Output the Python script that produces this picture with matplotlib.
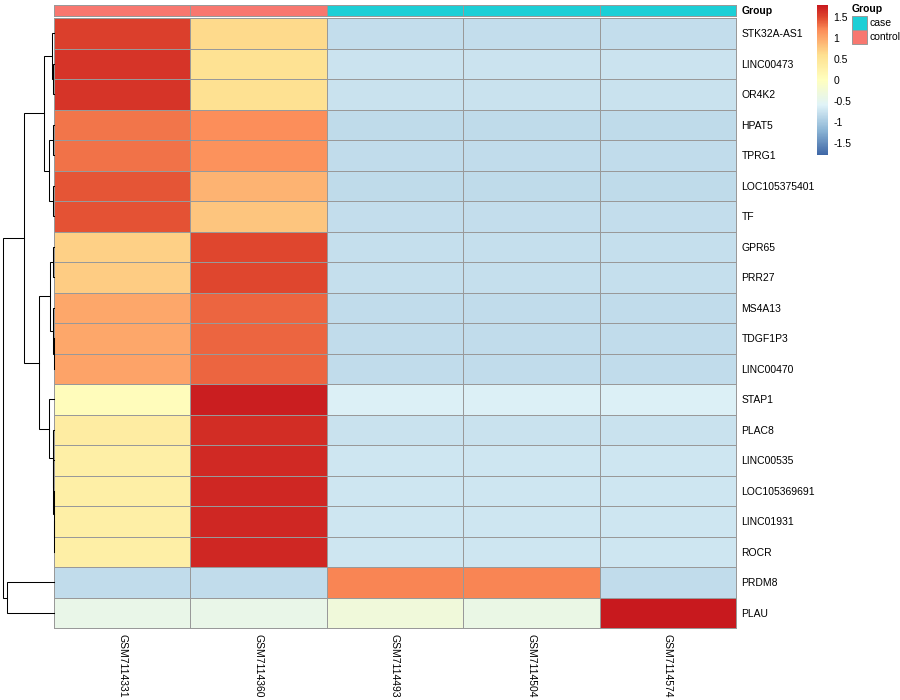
import numpy as np
import matplotlib.pyplot as plt
from matplotlib.colors import LinearSegmentedColormap, ListedColormap, Normalize
from matplotlib.patches import Rectangle

plt.rcParams['font.family'] = ['Liberation Sans', 'DejaVu Sans']

genes = ["STK32A-AS1", "LINC00473", "OR4K2", "HPAT5", "TPRG1", "LOC105375401", "TF",
         "GPR65", "PRR27", "MS4A13", "TDGF1P3", "LINC00470", "STAP1", "PLAC8",
         "LINC00535", "LOC105369691", "LINC01931", "ROCR", "PRDM8", "PLAU"]
samples = ["GSM7114331", "GSM7114360", "GSM7114493", "GSM7114504", "GSM7114574"]
groups = ["control", "control", "case", "case", "case"]

# row z-scores, one list per sample (rows in the order above)
gsm331 = [1.54, 1.62, 1.62, 1.29, 1.31, 1.43, 1.45, 0.70, 0.74, 1.00, 1.00, 1.03,
          0.05, 0.37, 0.31, 0.31, 0.31, 0.31, -0.82, -0.42]
gsm360 = [0.64, 0.55, 0.56, 1.18, 1.16, 0.92, 0.79, 1.50, 1.50, 1.37, 1.37, 1.36,
          1.76, 1.66, 1.69, 1.70, 1.70, 1.70, -0.82, -0.42]
gsm493 = [-0.80, -0.75, -0.76, -0.83, -0.82, -0.83, -0.80, -0.79, -0.79, -0.82, -0.82, -0.82,
          -0.62, -0.76, -0.72, -0.72, -0.72, -0.72, 1.22, -0.28]
gsm504 = [-0.80, -0.75, -0.76, -0.83, -0.82, -0.83, -0.80, -0.79, -0.79, -0.82, -0.82, -0.82,
          -0.62, -0.76, -0.72, -0.72, -0.72, -0.72, 1.22, -0.40]
gsm574 = [-0.80, -0.75, -0.76, -0.83, -0.82, -0.83, -0.80, -0.79, -0.79, -0.82, -0.82, -0.82,
          -0.62, -0.76, -0.72, -0.72, -0.72, -0.72, -0.82, 1.78]

# row dendrogram: (height, left, right), leaves are row indices
row_tree = (51,
            (30,
             (10, (2.5, 0, (0.6, 1, 2)), (5, (1, 3, 4), (1.5, 5, 6))),
             (15, (4, (0.8, 7, 8), (0.8, 9, (0.4, 10, 11))),
                  (5, 12, (1.5, 13, (0.8, 14, (0.5, 15, (0.3, 16, 17))))))),
            (47, 18, 19))

group_colors = {"case": "#1CCFD6", "control": "#F8776F"}

mat = np.array([gsm331, gsm360, gsm493, gsm504, gsm574]).T

cmap = LinearSegmentedColormap.from_list("hm", [
    (0.0, "#3F67A6"), (0.6 / 3.6, "#8DB6D6"), (1.2 / 3.6, "#E0F3F8"), (0.5, "#FFFFBF"),
    (2.4 / 3.6, "#FEE090"), (3.0 / 3.6, "#FC8D59"), (3.3 / 3.6, "#E0492F"), (1.0, "#C8191E")])
norm = Normalize(-1.79, 1.79)

W, H = 900, 700
fig = plt.figure(figsize=(9, 7), dpi=100)


def ax_px(x0, y0, x1, y1):
    return fig.add_axes([x0 / W, 1 - y1 / H, (x1 - x0) / W, (y1 - y0) / H])


grid = "#999999"
fs = 7.5

# heatmap
ax = ax_px(54, 18, 736, 628)
mesh = ax.pcolormesh(mat, cmap=cmap, norm=norm, edgecolors=grid, linewidth=0.7)
mesh.set_clip_on(False)
ax.set_xlim(0, len(samples))
ax.set_ylim(len(genes), 0)
for s in ax.spines.values():
    s.set_visible(False)
ax.yaxis.tick_right()
ax.set_yticks(np.arange(len(genes)) + 0.5)
ax.set_yticklabels(genes, fontsize=fs)
ax.set_xticks(np.arange(len(samples)) + 0.5)
ax.set_xticklabels(samples, fontsize=fs, rotation=270, ha="center", va="top")
ax.tick_params(length=0, pad=4)

# group annotation bar
ann = ax_px(54, 5, 736, 16)
levels = ["case", "control"]
codes = np.array([[levels.index(g) for g in groups]])
am = ann.pcolormesh(codes, cmap=ListedColormap([group_colors[l] for l in levels]),
                    vmin=-0.5, vmax=1.5, edgecolors=grid, linewidth=0.7)
am.set_clip_on(False)
ann.set_xlim(0, len(samples))
ann.set_ylim(1, 0)
for s in ann.spines.values():
    s.set_visible(False)
ann.set_xticks([])
ann.yaxis.tick_right()
ann.set_yticks([0.5])
ann.set_yticklabels(["Group"], fontsize=fs, fontweight="bold")
ann.tick_params(length=0, pad=4)

# dendrogram
dax = ax_px(0, 18, 54, 628)
dax.set_xlim(54, 0)
dax.set_ylim(len(genes), 0)
dax.axis("off")


def draw(node):
    if isinstance(node, int):
        return node + 0.5, 0
    h, l, r = node
    yl, hl = draw(l)
    yr, hr = draw(r)
    dax.plot([hl, h, h, hr], [yl, yl, yr, yr], color="black", lw=0.75,
             solid_joinstyle="miter", clip_on=False)
    return (yl + yr) / 2, h


draw(row_tree)

# colour legend
cax = ax_px(817, 5, 828, 155)
cb = fig.colorbar(mesh, cax=cax)
cb.outline.set_visible(False)
ticks = [1.5, 1, 0.5, 0, -0.5, -1, -1.5]
cb.set_ticks(ticks)
cb.set_ticklabels(["1.5", "1", "0.5", "0", "-0.5", "-1", "-1.5"])
cax.tick_params(length=0, pad=4, labelsize=fs)

# group legend
fig.text(852 / W, 1 - 9 / H, "Group", fontsize=fs, fontweight="bold", va="center", ha="left")
for i, lev in enumerate(levels):
    y0 = 16 + 14 * i
    fig.patches.append(Rectangle((852 / W, 1 - (y0 + 14) / H), 15 / W, 14 / H,
                                 transform=fig.transFigure, facecolor=group_colors[lev],
                                 edgecolor=grid, linewidth=0.7))
    fig.text(869 / W, 1 - (y0 + 7) / H, lev, fontsize=fs, va="center", ha="left")

fig.savefig("out.png", dpi=100)
